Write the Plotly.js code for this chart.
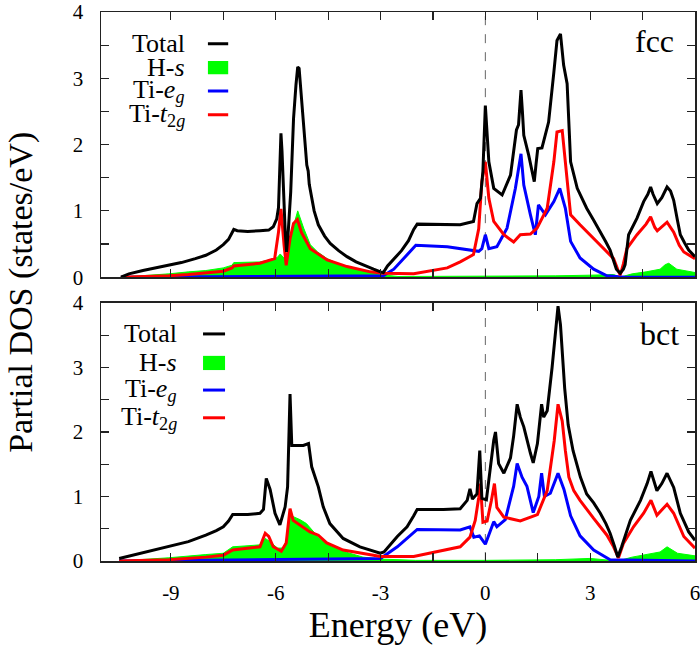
<!DOCTYPE html>
<html>
<head>
<meta charset="utf-8">
<script src="https://cdn.plot.ly/plotly-3.0.1.min.js"></script>
<style>
html,body{margin:0;padding:0;background:#fff;}
#chart{width:700px;height:645px;}
</style>
</head>
<body>
<div id="chart"></div>
<script>
// ---------- data ----------
// fcc panel
const fccTotalE = [-10.43,-10.2,-9.8,-9.4,-9.06,-8.7,-8.3,-8.0,-7.7,-7.5,-7.35,-7.25,-7.2,-7.1,-6.8,-6.45,-6.2,-6.07,-5.97,-5.92,-5.87,-5.85,-5.82,-5.78,-5.73,-5.69,-5.64,-5.57,-5.49,-5.42,-5.37,-5.33,-5.26,-5.18,-5.11,-5.07,-5.04,-4.9,-4.78,-4.6,-4.44,-4.2,-3.96,-3.7,-3.49,-3.2,-3.0,-2.92,-2.8,-2.6,-2.4,-2.2,-2.05,-1.95,-1.5,-1.0,-0.72,-0.34,-0.24,-0.14,-0.07,0.0,0.04,0.1,0.24,0.48,0.72,0.85,0.89,0.95,1.02,1.06,1.1,1.24,1.4,1.45,1.5,1.62,1.81,1.96,2.05,2.15,2.24,2.34,2.39,2.44,2.63,2.9,3.1,3.29,3.45,3.57,3.62,3.67,3.75,3.86,3.95,4.0,4.05,4.1,4.34,4.53,4.65,4.73,4.8,4.92,5.05,5.2,5.3,5.39,5.5,5.58,5.7,5.82,6.0];
const fccTotalD = [0,0.05,0.1,0.14,0.18,0.22,0.28,0.33,0.41,0.49,0.57,0.66,0.72,0.70,0.69,0.70,0.71,0.76,0.88,1.05,1.8,2.17,1.9,1.29,0.7,0.38,0.7,1.29,2.39,2.9,3.17,3.15,2.64,2.1,1.69,1.60,1.40,1.0,0.79,0.62,0.51,0.40,0.31,0.23,0.18,0.12,0.08,0.07,0.17,0.28,0.40,0.55,0.72,0.80,0.80,0.79,0.79,0.84,1.11,1.19,1.6,2.59,2.3,1.74,1.34,1.24,1.54,2.05,2.22,2.3,2.82,2.5,2.14,1.84,1.44,1.7,1.94,1.95,2.34,3.09,3.57,3.67,3.20,2.92,2.3,1.74,1.34,1.04,0.86,0.69,0.53,0.41,0.33,0.23,0.12,0.06,0.12,0.19,0.45,0.64,0.89,1.14,1.25,1.36,1.25,1.11,1.2,1.36,1.3,1.16,0.85,0.64,0.52,0.41,0.31];

const fccHsE = [-10.43,-9.5,-9.06,-8.5,-8.0,-7.5,-7.25,-7.2,-6.45,-6.07,-5.95,-5.87,-5.78,-5.7,-5.64,-5.54,-5.45,-5.37,-5.3,-5.2,-5.01,-4.8,-4.53,-4.2,-3.96,-3.29,-3.0,-2.5,0.0,2.0,3.0,3.67,3.86,4.2,4.6,5.0,5.15,5.25,5.48,6.0];
const fccHsD = [0,0.03,0.05,0.08,0.1,0.14,0.18,0.22,0.23,0.27,0.30,0.35,0.3,0.25,0.4,0.66,0.85,1.0,0.88,0.74,0.49,0.38,0.28,0.2,0.16,0.08,0.04,0.01,0.01,0.02,0.03,0.04,0.0,0.05,0.08,0.12,0.19,0.21,0.12,0.07];

const fccEgE = [-10.43,-3.0,-2.92,-2.62,-2.33,-2.1,-1.99,-1.09,-0.72,-0.19,-0.1,0.0,0.1,0.33,0.62,0.86,1.02,1.1,1.29,1.43,1.52,1.72,1.96,2.13,2.29,2.44,2.71,3.1,3.48,4.0,6.0];
const fccEgD = [0,0.01,0.02,0.12,0.28,0.42,0.48,0.46,0.43,0.39,0.43,0.64,0.43,0.46,0.74,1.34,1.86,1.39,0.94,0.64,1.09,0.94,1.14,1.34,1.04,0.54,0.29,0.12,0.02,0,0];

const fccT2gE = [-10.43,-9.5,-9.06,-8.5,-8.0,-7.5,-7.25,-7.2,-6.45,-6.03,-5.92,-5.85,-5.76,-5.7,-5.59,-5.49,-5.38,-5.26,-5.01,-4.53,-3.96,-3.29,-2.92,-2.05,-1.09,-0.72,-0.34,-0.19,-0.1,0.0,0.1,0.24,0.53,0.81,1.0,1.29,1.48,1.77,1.96,2.05,2.2,2.29,2.44,2.71,3.1,3.48,3.67,3.8,3.86,3.95,4.05,4.34,4.6,4.73,4.85,4.92,5.1,5.2,5.39,5.55,5.68,6.0];
const fccT2gD = [0,0.01,0.02,0.04,0.06,0.09,0.14,0.17,0.21,0.28,0.68,1.03,0.48,0.18,0.58,0.81,0.87,0.67,0.43,0.26,0.16,0.08,0.06,0.05,0.14,0.23,0.34,0.73,1.44,1.74,1.19,0.84,0.64,0.53,0.64,0.65,0.74,1.04,1.74,2.19,2.21,1.74,0.94,0.79,0.58,0.38,0.28,0.1,0.03,0.2,0.43,0.64,0.8,0.91,0.75,0.70,0.78,0.83,0.68,0.48,0.38,0.28];

// bct panel
const bctTotalE = [-10.48,-9.8,-9.06,-8.5,-8.0,-7.7,-7.5,-7.35,-7.23,-6.8,-6.45,-6.35,-6.27,-6.16,-6.02,-5.88,-5.73,-5.66,-5.59,-5.54,-5.21,-5.06,-4.97,-4.78,-4.64,-4.45,-4.07,-3.59,-3.01,-2.9,-2.52,-2.24,-2.05,-1.95,-1.2,-0.72,-0.52,-0.44,-0.37,-0.24,-0.16,-0.1,0.03,0.14,0.24,0.29,0.38,0.53,0.72,0.81,0.91,1.0,1.1,1.29,1.37,1.49,1.61,1.67,1.77,1.91,2.08,2.15,2.27,2.37,2.51,2.72,2.9,3.1,3.29,3.45,3.57,3.7,3.79,3.9,4.15,4.44,4.63,4.74,4.91,5.05,5.2,5.39,5.58,5.82,6.0];
const bctTotalD = [0.04,0.13,0.22,0.3,0.4,0.47,0.53,0.62,0.72,0.72,0.74,0.80,1.28,1.11,0.74,0.56,0.84,1.15,2.59,1.79,1.79,1.82,1.46,1.15,0.84,0.58,0.35,0.22,0.12,0.14,0.38,0.53,0.70,0.80,0.80,0.81,0.94,1.12,0.96,1.04,1.71,0.97,0.95,1.46,1.87,2.0,1.51,1.36,1.60,1.94,2.43,2.23,2.08,1.67,1.52,1.82,2.43,2.23,2.33,3.0,3.95,3.66,2.68,2.11,1.71,1.3,1.04,0.9,0.74,0.58,0.43,0.22,0.06,0.22,0.63,0.94,1.2,1.39,1.09,1.2,1.36,1.14,0.74,0.45,0.32];

const bctHsE = [-10.48,-9.5,-9.06,-8.0,-7.5,-7.23,-6.45,-6.3,-6.16,-5.95,-5.8,-5.7,-5.59,-5.3,-5.12,-4.78,-4.54,-4.07,-3.5,-3.0,-2.0,0.0,2.0,3.0,3.79,4.2,4.6,5.0,5.2,5.5,6.0];
const bctHsD = [0,0.03,0.05,0.1,0.12,0.22,0.25,0.35,0.3,0.2,0.2,0.3,0.71,0.64,0.58,0.37,0.26,0.15,0.06,0.03,0.01,0.01,0.02,0.04,0.0,0.06,0.1,0.14,0.22,0.12,0.08];

const bctEgE = [-10.48,-3.0,-2.52,-2.24,-1.95,-0.72,-0.44,-0.33,-0.17,0.0,0.14,0.24,0.33,0.57,0.81,0.91,1.05,1.19,1.37,1.53,1.61,1.69,1.86,2.08,2.25,2.44,2.71,3.1,3.57,6.0];
const bctEgD = [0,0.04,0.22,0.35,0.49,0.48,0.53,0.37,0.39,0.26,0.48,0.61,0.53,0.64,1.16,1.51,1.30,1.16,0.75,1.0,1.36,1.0,1.05,1.36,1.11,0.70,0.39,0.17,0.02,0];

const bctT2gE = [-10.48,-9.06,-8.0,-7.5,-7.23,-6.45,-6.3,-6.2,-6.07,-5.84,-5.7,-5.59,-5.5,-5.02,-4.78,-4.54,-4.07,-3.29,-3.0,-2.05,-1.09,-0.72,-0.44,-0.29,-0.19,-0.14,-0.07,0.05,0.17,0.26,0.33,0.53,1.0,1.49,1.77,1.97,2.08,2.2,2.29,2.39,2.53,2.71,3.1,3.48,3.67,3.81,3.95,4.24,4.53,4.74,4.91,5.2,5.39,5.68,6.0];
const bctT2gD = [0,0.02,0.06,0.09,0.17,0.22,0.43,0.38,0.22,0.15,0.28,0.81,0.63,0.45,0.40,0.28,0.17,0.09,0.07,0.07,0.17,0.22,0.37,0.63,0.98,1.20,0.60,0.62,0.93,1.20,0.83,0.68,0.62,0.72,1.09,1.86,2.43,2.17,1.71,1.3,1.09,0.94,0.66,0.40,0.22,0.05,0.27,0.53,0.74,0.94,0.71,0.88,0.74,0.38,0.20];

// labels and ticks
const seriesNames = ['Total', 'H-<i>s</i>', 'Ti-<i>e</i><sub><i>g</i></sub>', 'Ti-<i>t</i><sub>2<i>g</i></sub>'];
const panelNames = ['fcc', 'bct'];
const xTickVals = [-9, -7.5, -6, -4.5, -3, -1.5, 0, 1.5, 3, 4.5, 6];
const xTickText = ['-9', '', '-6', '', '-3', '', '0', '', '3', '', '6'];
const yTickVals = [0, 0.5, 1, 1.5, 2, 2.5, 3, 3.5, 4];
const yTickText = ['0', '', '1', '', '2', '', '3', '', '4'];
const xTitle = 'Energy (eV)';
const yTitle = 'Partial DOS (states/eV)';
const fermiLevel = 0;

// ---------- styling ----------
const FAMILY = 'Liberation Serif';
const cBlack = '#000000', cGreen = '#00ff00', cBlue = '#0000ff', cRed = '#ff0000';
const LW = 3;
function serifFont(size) { return {family: FAMILY, size: size, color: '#000000'}; }

function panelTraces(xa, ya, hsE, hsD, egE, egD, t2E, t2D, totE, totD) {
  return [
    {x: hsE, y: hsD, xaxis: xa, yaxis: ya, type: 'scatter', mode: 'lines', fill: 'tozeroy',
     fillcolor: cGreen, line: {color: cGreen, width: 1}, showlegend: false, hoverinfo: 'skip'},
    {x: egE, y: egD, xaxis: xa, yaxis: ya, type: 'scatter', mode: 'lines',
     line: {color: cBlue, width: LW}, showlegend: false},
    {x: t2E, y: t2D, xaxis: xa, yaxis: ya, type: 'scatter', mode: 'lines',
     line: {color: cRed, width: LW}, showlegend: false},
    {x: totE, y: totD, xaxis: xa, yaxis: ya, type: 'scatter', mode: 'lines',
     line: {color: cBlack, width: LW}, showlegend: false}
  ];
}

const traces = [].concat(
  panelTraces('x2', 'y2', fccHsE, fccHsD, fccEgE, fccEgD, fccT2gE, fccT2gD, fccTotalE, fccTotalD),
  panelTraces('x', 'y', bctHsE, bctHsD, bctEgE, bctEgD, bctT2gE, bctT2gD, bctTotalE, bctTotalD)
);

function axisCommon() {
  return {
    showgrid: false, zeroline: false, showline: true, linecolor: '#222', linewidth: 1.5,
    mirror: 'ticks', ticks: 'inside', ticklen: 8, tickwidth: 1.2, tickcolor: '#222',
    ticklabeloverflow: 'allow',
    tickfont: serifFont(21)
  };
}

const layout = {
  width: 700, height: 645,
  margin: {l: 101, r: 5, t: 12, b: 84},
  paper_bgcolor: '#ffffff', plot_bgcolor: '#ffffff',
  font: {family: FAMILY, color: '#000000'},
  showlegend: false,
  xaxis: Object.assign(axisCommon(), {
    domain: [0, 1], anchor: 'y', range: [-11, 6],
    tickmode: 'array', tickvals: xTickVals, ticktext: xTickText, ticklabelstandoff: 12,
    title: {text: xTitle, font: serifFont(36), standoff: 6}
  }),
  xaxis2: Object.assign(axisCommon(), {
    domain: [0, 1], anchor: 'y2', range: [-11, 6], matches: 'x',
    tickmode: 'array', tickvals: xTickVals, showticklabels: false
  }),
  yaxis: Object.assign(axisCommon(), {
    domain: [0, 0.47], anchor: 'x', range: [0, 4],
    tickmode: 'array', tickvals: yTickVals, ticktext: yTickText, ticklabelstandoff: 12
  }),
  yaxis2: Object.assign(axisCommon(), {
    domain: [0.517, 1], anchor: 'x2', range: [0, 4],
    tickmode: 'array', tickvals: yTickVals, ticktext: yTickText, ticklabelstandoff: 12
  }),
  shapes: [],
  annotations: []
};

// Fermi level dashed lines
['x', 'x2'].forEach((xa, i) => {
  const ya = i === 0 ? 'y' : 'y2';
  layout.shapes.push({type: 'line', xref: xa, yref: ya + ' domain', x0: fermiLevel, x1: fermiLevel, y0: 0, y1: 1,
    line: {color: '#666', width: 1, dash: 'dash'}, layer: 'below'});
});

// Legend built inside each panel (text right-aligned, sample on the right)
const legendCfg = [
  {xa: 'x2', ya: 'y2', textX: -8.54, s0: -7.94, s1: -7.36, rows: [3.52, 3.16, 2.81, 2.45], box: [3.06, 3.26]},
  {xa: 'x', ya: 'y', textX: -8.77, s0: -8.08, s1: -7.45, rows: [3.52, 3.07, 2.65, 2.22], box: [2.96, 3.18]}
];
const sampleColors = [cBlack, cGreen, cBlue, cRed];
legendCfg.forEach(cfg => {
  seriesNames.forEach((name, k) => {
    layout.annotations.push({xref: cfg.xa, yref: cfg.ya, x: cfg.textX, y: cfg.rows[k], text: name,
      showarrow: false, xanchor: 'right', yanchor: 'middle', font: serifFont(26)});
    if (k === 1) {
      layout.shapes.push({type: 'rect', xref: cfg.xa, yref: cfg.ya, x0: cfg.s0, x1: cfg.s1, y0: cfg.box[0], y1: cfg.box[1],
        fillcolor: cGreen, line: {width: 0}});
    } else {
      layout.shapes.push({type: 'line', xref: cfg.xa, yref: cfg.ya, x0: cfg.s0, x1: cfg.s1, y0: cfg.rows[k], y1: cfg.rows[k],
        line: {color: sampleColors[k], width: LW}});
    }
  });
});

// Panel labels
layout.annotations.push({xref: 'x2', yref: 'y2', x: 5.47, y: 3.56, text: panelNames[0], showarrow: false,
  xanchor: 'right', yanchor: 'middle', font: serifFont(32)});
layout.annotations.push({xref: 'x', yref: 'y', x: 5.6, y: 3.52, text: panelNames[1], showarrow: false,
  xanchor: 'right', yanchor: 'middle', font: serifFont(32)});

// Shared y title
layout.annotations.push({xref: 'paper', yref: 'paper', x: -0.135, y: 0.49, text: yTitle, textangle: -90,
  showarrow: false, xanchor: 'center', yanchor: 'middle', font: serifFont(34)});

const config = {displayModeBar: false, staticPlot: true};
Plotly.newPlot('chart', traces, layout, config);

// Redraw once the serif face is confirmed loaded, in case the first draw used a fallback face.
function redraw() { Plotly.react('chart', traces, layout, config); }
if (document.fonts && document.fonts.load) {
  document.fonts.load('21px "' + FAMILY + '"').then(redraw).catch(function () {});
}
setTimeout(redraw, 150);
</script>
</body>
</html>
